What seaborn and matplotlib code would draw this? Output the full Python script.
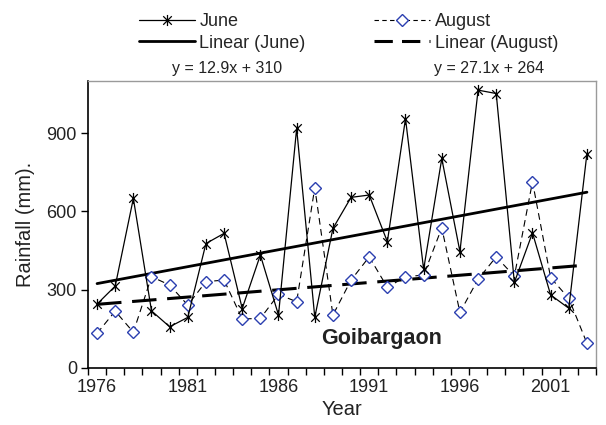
import numpy as np
import pandas as pd
import matplotlib
matplotlib.use("Agg")
import matplotlib.pyplot as plt
from matplotlib.path import Path
from matplotlib.lines import Line2D
import seaborn as sns

years = list(range(1976, 2004))
june = [245, 314, 650, 219, 158, 194, 477, 516, 228, 433,
        203, 918, 194, 535, 654, 663, 484, 956, 378, 803,
        446, 1065, 1052, 328, 518, 280, 229, 822]
august = [133, 218, 137, 350, 318, 241, 331, 337, 188, 190,
          282, 254, 691, 203, 337, 426, 309, 350, 356, 537,
          213, 340, 426, 352, 714, 346, 267, 95]
eq_june = "y = 12.9x + 310"
eq_aug = "y = 27.1x + 264"
station = "Goibargaon"
year_ticks = [1976, 1981, 1986, 1991, 1996, 2001]
y_ticks = [0, 300, 600, 900]

sns.set_theme(style="white")
plt.rcParams['font.family'] = ['Liberation Sans', 'DejaVu Sans']

df = pd.DataFrame({"year": years, "June": june, "August": august})
idx = np.arange(1, len(years) + 1)
pj = np.polyfit(idx, june, 1)
pa = np.polyfit(idx, august, 1)
df["LinJune"] = np.polyval(pj, idx)
df["LinAug"] = np.polyval(pa, idx)

fig = plt.figure(figsize=(6.06, 4.25), dpi=100)
ax = fig.add_axes([88/606, 1-368/425, (596-88)/606, (368-81)/425])

star = Path([(-1, -1), (1, 1), (-1, 1), (1, -1), (0, -1.3), (0, 1.3)],
            [Path.MOVETO, Path.LINETO, Path.MOVETO, Path.LINETO, Path.MOVETO, Path.LINETO])

sns.lineplot(data=df, x="year", y="LinJune", ax=ax, color="black", lw=2.0)
sns.lineplot(data=df, x="year", y="LinAug", ax=ax, color="black", lw=2.2,
             dashes=False, linestyle=(0, (8, 3.5)))
sns.lineplot(data=df, x="year", y="August", ax=ax, color="black", lw=0.8,
             linestyle=(0, (6, 4)), marker="D", markersize=6,
             markerfacecolor="white", markeredgecolor="#2b3fb0", markeredgewidth=1.0)
sns.lineplot(data=df, x="year", y="June", ax=ax, color="black", lw=0.9,
             marker=star, markersize=8, markeredgecolor="black", markeredgewidth=0.9)

ax.set_xlim(1975.5, 2003.5)
ax.set_ylim(0, 1100)
ax.set_yticks(y_ticks)
ax.set_xticks(year_ticks)
ax.set_xticks(np.arange(1975.5, 2004, 1), minor=True)
ax.tick_params(axis="x", which="major", length=0, labelsize=13, pad=8, colors="#222222")
ax.tick_params(axis="x", which="minor", length=5, width=1, color="black", direction="out", bottom=True)
ax.tick_params(axis="y", which="major", length=5, width=1, color="black", direction="out",
               left=True, labelsize=13, pad=3, labelcolor="#222222")
ax.set_xlabel("Year", fontsize=14.5, labelpad=3, color="#222222")
ax.set_ylabel("Rainfall (mm).", fontsize=14.5, labelpad=8, color="#222222")
for s in ["left", "bottom"]:
    ax.spines[s].set_color("black")
    ax.spines[s].set_linewidth(1.2)
for s in ["top", "right"]:
    ax.spines[s].set_color("#9a9a9a")
    ax.spines[s].set_linewidth(1.0)

ax.text(1991.7, 112, station, fontsize=15.5, fontweight="bold", color="#222222",
        ha="center", va="center")

handles = [
    Line2D([], [], color="black", lw=0.9, marker=star, markersize=8, markeredgewidth=0.9),
    Line2D([], [], color="black", lw=2.0),
    Line2D([], [], color="black", lw=0.8, linestyle=(0, (4, 3)), marker="D", markersize=6,
           markerfacecolor="white", markeredgecolor="#2b3fb0"),
    Line2D([], [], color="black", lw=2.2, linestyle=(0, (6, 3))),
]
labels = ["June", "Linear (June)", "August", "Linear (August)"]
fig.legend(handles, labels, ncol=2, loc="upper left",
           bbox_to_anchor=(139/606, 1 - 13/425), frameon=False, fontsize=13,
           handlelength=3.1, handletextpad=0.25, columnspacing=3.8,
           labelspacing=0.25, borderpad=0, borderaxespad=0)
fig.text(227/606, 1 - 68/425, eq_june, fontsize=11.5, ha="center", va="center", color="#222222")
fig.text(489/606, 1 - 68/425, eq_aug, fontsize=11.5, ha="center", va="center", color="#222222")

fig.savefig("out.png", dpi=100)
